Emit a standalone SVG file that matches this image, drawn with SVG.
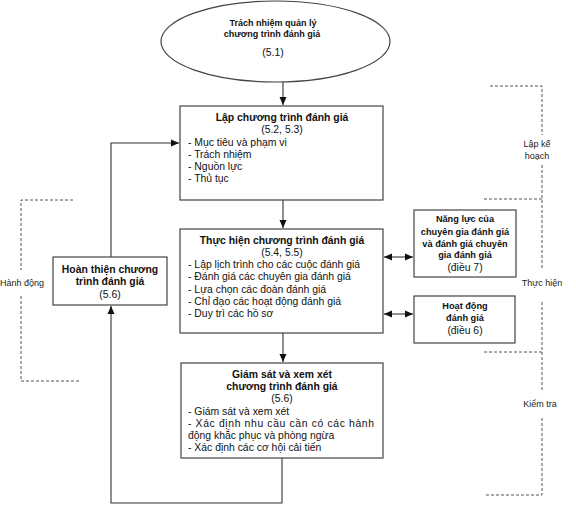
<svg xmlns="http://www.w3.org/2000/svg" width="576" height="514" viewBox="0 0 576 514">
<style>
text{font-family:"Liberation Sans",Arial,sans-serif;fill:#111}
.b{font-weight:bold;font-size:10.4px}
.n{font-size:10.4px}
.s{font-size:9.2px;font-weight:bold}
.e{font-size:9px;font-weight:bold}
.lab{font-size:9px;fill:#222}
.box{fill:#fff;stroke:#444;stroke-width:1.2}
.c{fill:none;stroke:#333;stroke-width:1.1}
.d{fill:none;stroke:#555;stroke-width:1;stroke-dasharray:3,2}
</style>
<defs>
<marker id="a" markerUnits="userSpaceOnUse" markerWidth="9" markerHeight="8" refX="8" refY="4" orient="auto-start-reverse">
<path d="M0,0.5 L8,4 L0,7.5 z" fill="#111"/>
</marker>
</defs>
<g id="connectors">
<line class="c" x1="283" y1="82" x2="283" y2="105" marker-end="url(#a)"/>
<line class="c" x1="283" y1="200" x2="283" y2="228" marker-end="url(#a)"/>
<line class="c" x1="283" y1="333" x2="283" y2="362" marker-end="url(#a)"/>
<polyline class="c" points="282,458 282,503 111,503 111,306" marker-end="url(#a)"/>
<polyline class="c" points="111,257 111,143 179,143" marker-end="url(#a)"/>
<line class="c" x1="384" y1="257" x2="413" y2="257" marker-start="url(#a)" marker-end="url(#a)"/>
<line class="c" x1="384" y1="314" x2="413" y2="314" marker-start="url(#a)" marker-end="url(#a)"/>
</g>
<g id="brackets">
<polyline class="d" points="73,200 21,200 21,270"/>
<polyline class="d" points="21,296 21,381 80,381"/>
<text class="lab" x="0" y="286">Hành động</text>
<polyline class="d" points="490,86 542,86 542,135"/>
<line class="d" x1="542" y1="165" x2="542" y2="269"/>
<line class="d" x1="484" y1="199" x2="542" y2="199"/>
<text class="lab" x="537" y="147" text-anchor="middle">Lập kế</text>
<text class="lab" x="537" y="159" text-anchor="middle">hoạch</text>
<text class="lab" x="542" y="286" text-anchor="middle">Thực hiện</text>
<line class="d" x1="542" y1="302" x2="542" y2="390"/>
<line class="d" x1="484" y1="352" x2="542" y2="352"/>
<text class="lab" x="540" y="407" text-anchor="middle">Kiểm tra</text>
<polyline class="d" points="542,418 542,495 484,495"/>
</g>
<g id="n51">
<ellipse cx="275.5" cy="41.5" rx="114.5" ry="40.5" fill="#fff" stroke="#444" stroke-width="1.2"/>
<text class="e" x="273" y="26" text-anchor="middle">Trách nhiệm quản lý</text>
<text class="e" x="272" y="37" text-anchor="middle">chương trình đánh giá</text>
<text class="n" x="273" y="56" text-anchor="middle">(5.1)</text>
</g>
<g id="n52">
<rect class="box" x="180" y="106" width="203" height="94"/>
<text class="b" x="282" y="121" text-anchor="middle">Lập chương trình đánh giá</text>
<text class="n" x="282" y="133" text-anchor="middle">(5.2, 5.3)</text>
<text class="n" x="188" y="146">- Mục tiêu và phạm vi</text>
<text class="n" x="188" y="158">- Trách nhiệm</text>
<text class="n" x="188" y="170">- Nguồn lực</text>
<text class="n" x="188" y="182">- Thủ tục</text>
</g>
<g id="n54">
<rect class="box" x="180" y="229" width="203" height="104"/>
<text class="b" x="282" y="244" text-anchor="middle">Thực hiện chương trình đánh giá</text>
<text class="n" x="282" y="256" text-anchor="middle">(5.4, 5.5)</text>
<text class="n" x="188" y="268">- Lập lịch trình cho các cuộc đánh giá</text>
<text class="n" x="188" y="280">- Đánh giá các chuyên gia đánh giá</text>
<text class="n" x="188" y="293">- Lựa chọn các đoàn đánh giá</text>
<text class="n" x="188" y="305">- Chỉ đạo các hoạt động đánh giá</text>
<text class="n" x="188" y="317">- Duy trì các hồ sơ</text>
</g>
<g id="n56">
<rect class="box" x="181" y="363" width="202" height="95"/>
<text class="b" x="282" y="378" text-anchor="middle">Giám sát và xem xét</text>
<text class="b" x="282" y="390" text-anchor="middle">chương trình đánh giá</text>
<text class="n" x="282" y="402" text-anchor="middle">(5.6)</text>
<text class="n" x="188" y="415">- Giám sát và xem xét</text>
<text class="n" x="188" y="427" textLength="186" lengthAdjust="spacing">- Xác định nhu cầu cần có các hành</text>
<text class="n" x="188" y="439">động khắc phục và phòng ngừa</text>
<text class="n" x="188" y="451">- Xác định các cơ hội cải tiến</text>
</g>
<g id="n56b">
<rect class="box" x="53" y="257" width="114" height="48"/>
<text class="b" x="110" y="273" text-anchor="middle">Hoàn thiện chương</text>
<text class="b" x="110" y="285" text-anchor="middle">trình đánh giá</text>
<text class="n" x="110" y="298" text-anchor="middle">(5.6)</text>
</g>
<g id="d7">
<rect class="box" x="414" y="210" width="102" height="67"/>
<text class="s" x="465" y="222" text-anchor="middle">Năng lực của</text>
<text class="s" x="465" y="235" text-anchor="middle">chuyên gia đánh giá</text>
<text class="s" x="465" y="247" text-anchor="middle">và đánh giá chuyên</text>
<text class="s" x="465" y="258" text-anchor="middle">gia đánh giá</text>
<text class="n" x="465" y="271" text-anchor="middle">(điều 7)</text>
</g>
<g id="d6">
<rect class="box" x="414" y="296" width="101" height="47"/>
<text class="s" x="465" y="309" text-anchor="middle">Hoạt động</text>
<text class="s" x="465" y="321" text-anchor="middle">đánh giá</text>
<text class="n" x="465" y="334" text-anchor="middle">(điều 6)</text>
</g>
</svg>
